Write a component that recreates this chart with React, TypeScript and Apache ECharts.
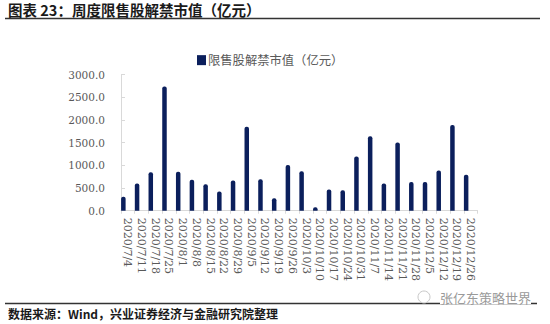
import React, { useEffect, useRef } from "react";
import * as echarts from "echarts";

const categories = [
  "2020/7/4", "2020/7/11", "2020/7/18", "2020/7/25", "2020/8/1", "2020/8/8",
  "2020/8/15", "2020/8/22", "2020/8/29", "2020/9/5", "2020/9/12", "2020/9/19",
  "2020/9/26", "2020/10/3", "2020/10/10", "2020/10/17", "2020/10/24", "2020/10/31",
  "2020/11/7", "2020/11/14", "2020/11/21", "2020/11/28", "2020/12/5", "2020/12/12",
  "2020/12/19", "2020/12/26",
];
const unlockValues = [
  310, 600, 850, 2740, 860, 680, 585, 425, 665, 1850, 695, 275, 1010, 870, 75,
  470, 450, 1195, 1645, 600, 1505, 635, 635, 885, 1890, 795,
];
const seriesName = "限售股解禁市值（亿元）";
const titleText = "图表 23：周度限售股解禁市值（亿元）";
const sourceText = "数据来源：Wind，兴业证券经济与金融研究院整理";
const watermarkText = "张亿东策略世界";

export default function App() {
  const ref = useRef<HTMLDivElement>(null);
  useEffect(() => {
    if (!ref.current) return;
    const chart = echarts.init(ref.current, null, { renderer: "svg" });
    chart.setOption({
      animation: false,
      backgroundColor: "#ffffff",
      grid: { left: 121, right: 72.5, top: 74.7, bottom: 113.3, outerBoundsMode: "none" },
      legend: {
        data: [seriesName],
        left: 192,
        top: 49,
        icon: "rect",
        itemWidth: 9,
        itemHeight: 10,
        textStyle: { fontFamily: "Noto Sans CJK SC", fontSize: 12.3, color: "#595959", padding: [0, 0, 0, -3] },
      },
      xAxis: {
        type: "category",
        data: categories,
        boundaryGap: true,
        axisLine: { lineStyle: { color: "#d9d9d9", width: 1 } },
        axisTick: { show: true, length: 3, lineStyle: { color: "#d9d9d9" } },
        axisLabel: {
          interval: 0,
          rotate: -90,
          margin: 7,
          fontFamily: "DejaVu Serif",
          fontSize: 11,
          color: "#595959",
          padding: [9, 0, 0, 0],
        },
      },
      yAxis: {
        type: "value",
        min: 0,
        max: 3000,
        interval: 500,
        axisLine: { show: true, lineStyle: { color: "#d9d9d9" } },
        axisTick: { show: true, inside: true, length: 4, lineStyle: { color: "#d9d9d9" } },
        splitLine: { show: false },
        axisLabel: {
          margin: 16,
          fontFamily: "DejaVu Serif",
          fontSize: 10.5,
          color: "#595959",
          formatter: (v: number) => v.toFixed(1),
        },
      },
      series: [
        {
          name: seriesName,
          type: "bar",
          data: unlockValues,
          barWidth: 4.5,
          barGap: "100%",
          itemStyle: { color: "#0b1f5c", borderRadius: [2, 2, 0, 0] },
        },
        {
          name: "_spacer",
          type: "bar",
          data: unlockValues.map(() => null),
          barWidth: 4.5,
          itemStyle: { color: "transparent" },
        },
      ],
      graphic: [
        {
          type: "text",
          x: 8,
          y: 9.5,
          style: { text: titleText, font: "bold 14.5px 'Noto Sans CJK SC'", fill: "#1a1a1a", verticalAlign: "middle" },
        },
        {
          type: "line",
          shape: { x1: 5, y1: 18.5, x2: 540, y2: 18.5 },
          style: { stroke: "#333333", lineWidth: 1.5 },
        },
        {
          type: "line",
          shape: { x1: 5, y1: 303.5, x2: 537, y2: 303.5 },
          style: { stroke: "#333333", lineWidth: 1.5 },
        },
        {
          type: "text",
          x: 8,
          y: 313,
          style: { text: sourceText, font: "bold 12px 'Noto Sans CJK SC'", fill: "#1a1a1a", verticalAlign: "middle" },
        },
        {
          type: "circle",
          shape: { cx: 424, cy: 297, r: 6 },
          style: { fill: "#ffffff", stroke: "#c8c8c8", lineWidth: 1 },
        },
        {
          type: "text",
          x: 440,
          y: 297.5,
          style: { text: watermarkText, font: "13px 'Noto Sans CJK SC'", fill: "#9a9a9a", verticalAlign: "middle", backgroundColor: "#ffffff" },
        },
      ],
    });
    return () => chart.dispose();
  }, []);
  return (
    <div
      ref={ref}
      style={{ position: "fixed", left: 0, top: 0, width: 550, height: 324 }}
    />
  );
}
